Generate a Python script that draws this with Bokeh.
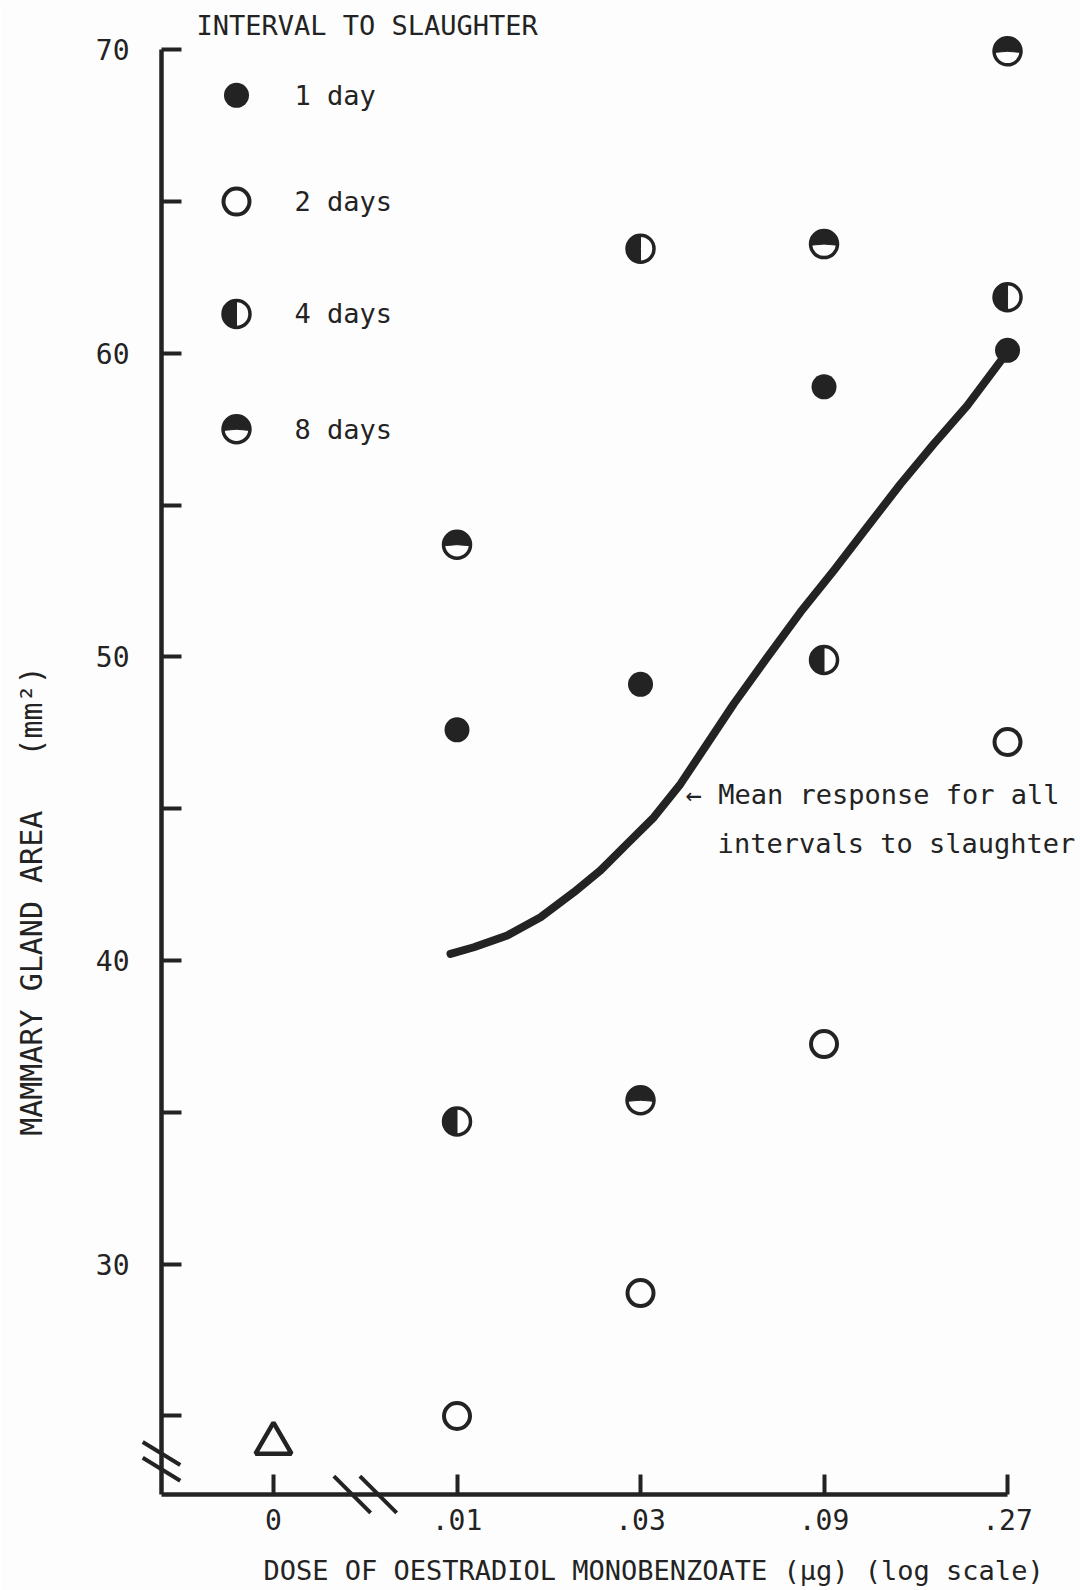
import math
from bokeh.plotting import figure
from bokeh.models import Range1d, FixedTicker, CustomJSTickFormatter, Label
from bokeh.core.properties import value
from bokeh.embed import file_html
from bokeh.resources import INLINE

# ---------------- data ----------------
dose_labels = ["0", ".01", ".03", ".09", ".27"]
doses = [0.01, 0.03, 0.09, 0.27]           # ug, log scale
control_area = [24.1]                        # dose 0 (triangle)
area_1day = [47.6, 49.1, 58.9, 60.1]
area_2days = [25.0, 29.05, 37.25, 47.2]
area_4days = [34.7, 63.45, 49.9, 61.85]
area_8days = [53.7, 35.4, 63.6, 69.95]
mean_dose = [0.00962, 0.01106, 0.01351, 0.01649, 0.02012, 0.02361, 0.02770,
             0.03249, 0.03812, 0.04473, 0.05245, 0.06406, 0.07818, 0.09544,
             0.11657, 0.14226, 0.17367, 0.21213, 0.27]
mean_area = [40.22, 40.44, 40.83, 41.43, 42.25, 42.97, 43.85,
             44.72, 45.82, 47.14, 48.46, 49.99, 51.48, 52.85,
             54.28, 55.70, 57.02, 58.28, 60.05]
interval_labels = ["1 day", "2 days", "4 days", "8 days"]
y_major = [30, 40, 50, 60, 70]
y_minor = [25, 35, 45, 55, 65]

# ---------------- style ----------------
INK = "#232323"
BG = "#fdfdfd"
FONT = "DejaVu Sans Mono"
NB = "\u00a0"

# zero dose cannot sit on a log axis: it is drawn one 3-fold step below the lowest dose
ctrl_pos = doses[0] / 3.0
x_start, x_end = 0.0017048, 0.4179
y_start, y_end = 22.414, 71.624

p = figure(width=1080, height=1590, x_axis_type="log",
           x_range=Range1d(x_start, x_end), y_range=Range1d(y_start, y_end),
           output_backend="svg", toolbar_location=None,
           min_border_left=161, min_border_right=0, min_border_top=0, min_border_bottom=96,
           background_fill_color=BG, border_fill_color=BG, outline_line_color=None)
p.grid.visible = False

xa = p.xaxis[0]
xa.ticker = FixedTicker(ticks=[ctrl_pos] + doses)
xa.formatter = CustomJSTickFormatter(args=dict(labels=dose_labels), code="return labels[index];")
xa.bounds = (x_start, doses[-1])
ya = p.yaxis[0]
ya.ticker = FixedTicker(ticks=y_major, minor_ticks=y_minor)
ya.bounds = (y_start, 70)
for ax in (xa, ya):
    ax.axis_line_width = 4.5
    ax.axis_line_color = INK
    ax.major_tick_in = 20
    ax.major_tick_out = 0
    ax.major_tick_line_width = 4
    ax.major_tick_line_color = INK
    ax.minor_tick_in = 20
    ax.minor_tick_out = 0
    ax.minor_tick_line_width = 4
    ax.minor_tick_line_color = INK
    ax.major_label_text_font = FONT
    ax.major_label_text_font_size = "28px"
    ax.major_label_text_color = INK
    ax.axis_label_text_font = FONT
    ax.axis_label_text_font_style = "normal"
    ax.axis_label_text_color = INK
xa.major_label_standoff = 14
ya.major_label_standoff = 32

xa.axis_label = NB * 4 + "DOSE OF OESTRADIOL MONOBENZOATE (\u03bcg) (log scale)"
xa.axis_label_text_font_size = "27px"
xa.axis_label_standoff = 22
ya.axis_label = "MAMMARY GLAND AREA" + NB * 3 + "(mm\u00b2)" + NB * 17
ya.axis_label_text_font_size = "30px"
ya.axis_label_standoff = 44

# axis breaks
gm = math.sqrt(ctrl_pos * doses[0])
rb1 = p.scatter(x=[gm / 1.081, gm * 1.081], y=[y_start, y_start], marker="dash", size=52,
                angle=-math.pi / 4, line_width=4, line_color=INK)
rb2 = p.scatter(x=[x_start, x_start], y=[y_start + 1.35, y_start + 0.83], marker="dash", size=44,
                angle=-0.55, line_width=4, line_color=INK)
rb1.level = "overlay"
rb2.level = "overlay"

# mean response curve
p.line(mean_dose, mean_area, line_width=8, line_color=INK, line_cap="round", line_join="round")

R = 13.5


def draw(kind, xs, ys):
    if kind == 0:
        p.scatter(xs, ys, marker="circle", size=25, fill_color=INK, line_color=None)
    elif kind == 1:
        p.scatter(xs, ys, marker="circle", size=26, fill_color=BG, line_color=INK, line_width=4)
    else:
        p.scatter(xs, ys, marker="circle", size=27, fill_color=BG, line_color=INK, line_width=3.5)
        if kind == 2:
            a0, a1 = math.pi / 2, 3 * math.pi / 2
        else:
            a0, a1 = -0.08, math.pi + 0.08
        p.wedge(xs, ys, radius=R, radius_units="screen", start_angle=a0, end_angle=a1,
                fill_color=INK, line_color=INK, line_width=1)


series = [area_1day, area_2days, area_4days, area_8days]
for k, s in enumerate(series):
    draw(k, doses, s)

# control (dose 0)
p.scatter([ctrl_pos], control_area, marker="triangle", size=36, fill_color=None,
          line_color=INK, line_width=4.5)

# legend
legend_x = 0.002671
legend_y = [68.5, 65.0, 61.3, 57.5]
for k in range(4):
    draw(k, [legend_x], [legend_y[k]])
p.text(x=[legend_x] * 4, y=legend_y, text=interval_labels, x_offset=58,
       text_font=value(FONT), text_font_size="27px", text_baseline="middle", text_color=INK)

p.add_layout(Label(x=x_start, y=70.8, x_offset=35, text="INTERVAL TO SLAUGHTER",
                   text_font=FONT, text_font_size="27px", text_baseline="middle", text_color=INK))

# annotation for curve
p.text(x=[0.0393, 0.0393], y=[45.47, 43.86], x_offset=[0, 32],
       text=["\u2190 Mean response for all", "intervals to slaughter"],
       text_font=value(FONT), text_font_size="27px", text_baseline="middle", text_color=INK)

open("out.html", "w").write(file_html(p, INLINE))
